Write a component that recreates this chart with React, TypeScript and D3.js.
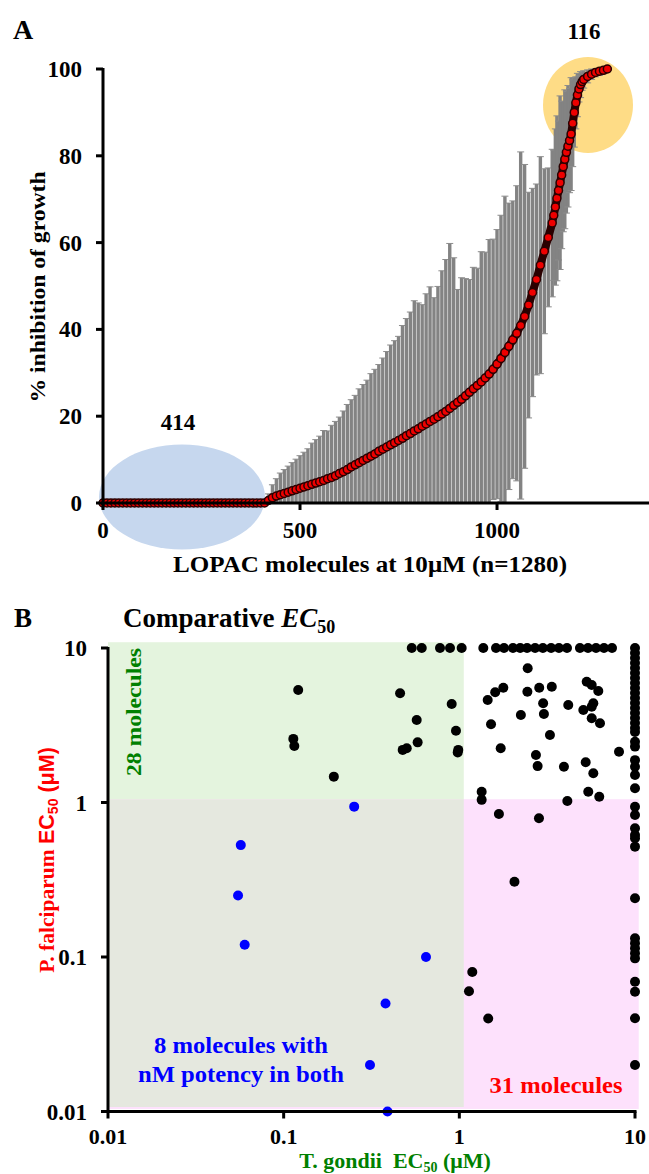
import React from 'react';
import * as d3 from 'd3';

const W = 649;
const H = 1174;
const SERIF = '"Liberation Serif", "Times New Roman", serif';
const SANS = '"Liberation Sans", Arial, sans-serif';

// ---------------- Panel A data (sorted % inhibition; sampled every 10 molecules, every 4 on the steep part) ----------------
const moleculeRank = [
  ...d3.range(0, 1140, 10),
  ...d3.range(1140, 1224, 4),
  ...d3.range(1230, 1281, 10),
];
const inhibition = [
  0, 0, 0, 0, 0, 0, 0, 0, 0, 0, 0, 0, 0, 0, 0, 0, 0, 0, 0, 0, 0,
  0, 0, 0, 0, 0, 0, 0, 0, 0, 0, 0, 0, 0, 0, 0, 0, 0, 0, 0, 0, 0,
  0.6, 1.2, 1.6, 1.9, 2.2, 2.5, 2.8, 3.1, 3.4, 3.7,
  4.0, 4.3, 4.6, 4.9, 5.2, 5.6, 5.9, 6.3, 6.8, 7.2,
  7.7, 8.3, 8.8, 9.3, 9.8, 10.3, 10.8, 11.3, 11.9, 12.4,
  12.9, 13.4, 13.9, 14.4, 14.9, 15.5, 16.0, 16.6, 17.1, 17.7,
  18.2, 18.8, 19.3, 19.9, 20.5, 21.1, 21.8, 22.5, 23.2, 23.9,
  24.7, 25.5, 26.3, 27.1, 27.9, 28.8, 29.7, 30.8, 32.0, 33.3,
  34.7, 36.1, 37.6, 39.1, 40.9, 43.0, 45.6, 48.5, 51.5, 54.8,
  58.0, 61.2,
  64.5, 66.3, 68.2, 70.2, 72.0, 73.8, 75.6, 77.5, 79.2, 80.8, 82.2,
  83.5, 85.0, 87.5, 90.0, 92.2, 94.0, 95.4, 96.4, 97.1, 97.6,
  98.3, 98.8, 99.2, 99.5, 99.7, 100,
];
const inhibitionSD = [
  0, 0, 0, 0, 0, 0, 0, 0, 0, 0, 0, 0, 0, 0, 0, 0, 0, 0, 0, 0, 0,
  0, 0, 0, 0, 0, 0, 0, 0, 0, 0, 0, 0, 0, 0, 0, 0, 0, 0, 0, 0, 0,
  1.5, 3, 4, 5, 5.5, 6, 6.5, 7, 7.5, 8,
  8.5, 9.5, 10, 10.5, 11.5, 11, 12, 12.5, 13, 14,
  15, 15.5, 16, 17, 17.5, 18, 19, 19.5, 20, 21,
  22, 23, 23.5, 24, 26, 27, 28, 30, 29, 28,
  30, 31, 28, 30, 33, 35, 38, 34, 26, 28,
  27, 26, 28, 27, 30, 29, 31, 30, 31, 33,
  36, 33, 32, 34, 40, 35, 26, 24, 22, 25,
  19, 16,
  17, 15, 18, 19, 16, 20, 17, 15, 16, 14, 14,
  12, 13, 10, 8, 6, 5, 3, 3, 2, 2,
  1.5, 1.2, 1, 1, 0.8, 0.5,
];
const xTicksA = [0, 500, 1000];
const yTicksA = [0, 20, 40, 60, 80, 100];
const inactiveCount = '414';
const activeCount = '116';

// ---------------- Panel B data (EC50, µM) ----------------
const tgondiiEC50 = [
  0.121, 0.1135, 0.115, 0.193, 0.46, 0.572, 0.579, 0.476, 0.502, 0.905, 0.957, 0.986, 0.979,
  0.536, 0.611, 0.776, 0.885, 1.031, 1.369, 1.617, 1.796, 2.02, 2.22, 2.43, 2.70, 2.99, 3.33, 3.69, 4.10, 4.86, 5.40, 6.0, 6.66, 7.40,
  2.45, 1.78, 1.6, 1.45, 2.85, 3.36, 2.44, 3.0, 3.03, 2.24, 4.17, 1.515, 3.28, 1.72, 5.31, 5.67, 6.18, 5.79, 5.67, 5.08, 5.67, 6.32,
  8.11, 2.73, 2.79, 3.94, 5.24, 5.79, 5.42, 6.26, 4.12, 1.34, 1.34,
  1.68, 2.84, 2.06, 1.185, 1.135, 1.46,
  10, 10, 10, 10, 10, 10, 10, 10, 10, 10, 10, 10, 10, 10, 10, 10, 10, 10,
  10, 10, 10, 10, 10, 10, 10, 10, 10, 10, 10, 10, 10, 10, 10, 10, 10, 10, 10, 10, 10, 10,
];
const pfalciparumEC50 = [
  5.35, 2.58, 2.32, 1.47, 5.09, 3.42, 2.45, 2.19, 2.245, 4.34, 2.915, 2.19, 2.11,
  10, 10, 10, 10, 10, 10, 10, 10, 10, 10, 10, 10, 10, 10, 10, 10, 10, 10, 10, 10, 10,
  7.39, 5.53, 5.17, 4.61, 5.53, 5.62, 5.21, 4.39, 3.74, 3.68, 4.28, 3.21, 2.735, 2.245, 6.05, 5.76, 5.27, 4.39, 4.17, 3.97, 3.51, 3.26,
  2.13, 2.03, 1.72, 1.705, 1.82, 1.545, 1.175, 1.09, 1.023, 1.175, 1.04,
  0.842, 0.79, 0.307, 0.08, 0.06, 0.04,
  10, 9.28, 8.61, 8.0, 7.42, 6.89, 6.39, 5.93, 5.51, 5.11, 4.75, 4.41, 4.09, 3.80, 3.52, 3.27, 3.03, 2.86,
  2.47, 2.30, 1.88, 1.705, 1.507, 1.235, 0.939, 0.83, 0.681, 0.616, 0.587, 0.518, 0.24, 0.132, 0.1227, 0.1138, 0.1056, 0.098, 0.0692, 0.0596, 0.0401, 0.02,
];
const tgondiiBothNM = [0.252, 0.057, 0.055, 0.060, 0.646, 0.38, 0.31, 0.39];
const pfalciparumBothNM = [0.94, 0.53, 0.25, 0.12, 0.10, 0.05, 0.02, 0.01];
const logTicksB = [0.01, 0.1, 1, 10];
const tickLabelB = ['0.01', '0.1', '1', '10'];

type TProps = {
  x: number; y: number; size: number; anchor?: string; fill?: string; len?: number;
  rotate?: number; family?: string; children?: React.ReactNode;
};
const T = ({ x, y, size, anchor = 'start', fill = '#000', len, rotate, family = SERIF, children }: TProps) => (
  <text
    x={x}
    y={y}
    fontSize={size}
    textAnchor={anchor as any}
    fill={fill}
    fontWeight="bold"
    fontFamily={family}
    textLength={len}
    lengthAdjust={len ? 'spacingAndGlyphs' : undefined}
    transform={rotate ? `rotate(${rotate} ${x} ${y})` : undefined}
  >
    {children}
  </text>
);

function PanelA() {
  const xA = d3.scaleLinear().domain([0, 1390]).range([103, 650.7]);
  const yA = d3.scaleLinear().domain([0, 100]).range([503, 69]);
  const pts = moleculeRank.map((r, i) => ({ r, v: inhibition[i], sd: inhibitionSD[i] }));
  const cap = 3.5;
  const chain = d3
    .line<{ r: number; v: number }>()
    .x((d) => xA(d.r))
    .y((d) => yA(d.v))(pts) as string;
  return (
    <g>
      <defs>
        <clipPath id="clipA">
          <rect x={103} y={yA(100) - 1} width={W - 103} height={yA(0) - yA(100) + 1} />
        </clipPath>
      </defs>
      <ellipse cx={182} cy={497} rx={83} ry={52.5} fill="#c6d7ee" />
      <ellipse cx={588} cy={105} rx={45} ry={48} fill="#fedc86" />
      <g clipPath="url(#clipA)" stroke="#8c8c8c" strokeWidth={1}>
        {pts.filter((p) => p.sd > 0).map((p, i) => {
          const x = xA(p.r);
          const y1 = yA(p.v + p.sd);
          const y0 = yA(p.v - p.sd);
          return (
            <g key={i}>
              <line x1={x} x2={x} y1={y1} y2={y0} strokeWidth={3.4} stroke="#838383" />
              <line x1={x - cap} x2={x + cap} y1={y1} y2={y1} />
              <line x1={x - cap} x2={x + cap} y1={y0} y2={y0} />
            </g>
          );
        })}
      </g>
      <path d={chain} fill="none" stroke="#2a0000" strokeWidth={8} strokeLinecap="round" strokeLinejoin="round" />
      <g>
        {pts.map((p, i) => (
          <circle key={i} cx={xA(p.r)} cy={yA(p.v)} r={4} fill="#ee0000" stroke="#2a0000" strokeWidth={1.5} />
        ))}
      </g>
      {/* axes */}
      <line x1={103} x2={103} y1={yA(100) - 1} y2={yA(0) + 2} stroke="#000" strokeWidth={3} />
      <line x1={101.5} x2={W} y1={yA(0)} y2={yA(0)} stroke="#000" strokeWidth={3} />
      {yTicksA.map((t) => (
        <g key={t}>
          <line x1={96} x2={103} y1={yA(t)} y2={yA(t)} stroke="#000" strokeWidth={3} />
          <T x={82} y={yA(t) + 8} size={23} anchor="end">{String(t)}</T>
        </g>
      ))}
      {xTicksA.map((t) => (
        <g key={t}>
          <line x1={xA(t)} x2={xA(t)} y1={yA(0)} y2={yA(0) + 7} stroke="#000" strokeWidth={3} />
          <T x={xA(t)} y={538} size={23} anchor="middle">{String(t)}</T>
        </g>
      ))}
      <T x={370} y={572} size={23} anchor="middle" len={394}>LOPAC molecules at 10μM (n=1280)</T>
      <T x={45} y={287} size={22} anchor="middle" len={231} rotate={-90}>% inhibition of growth</T>
      <T x={13} y={39} size={28}>A</T>
      <T x={584} y={39} size={23} anchor="middle">{activeCount}</T>
      <T x={178} y={430} size={23} anchor="middle">{inactiveCount}</T>
    </g>
  );
}

function PanelB() {
  const xB = d3.scaleLog().domain([0.01, 10]).range([108, 635]);
  const yB = d3.scaleLog().domain([0.01, 10]).range([1111.5, 648]);
  const xs = 1.06, ys = 1.05, top = 10.9, right = 10.5, bottom = 0.0107;
  return (
    <g>
      <rect x={xB(0.01)} y={yB(top)} width={xB(xs) - xB(0.01)} height={yB(ys) - yB(top)} fill="#e4f4de" />
      <rect x={xB(0.01)} y={yB(ys)} width={xB(right) - xB(0.01)} height={yB(bottom) - yB(ys) + 2} fill="#fde1fc" />
      <rect x={xB(0.01)} y={yB(ys)} width={xB(xs) - xB(0.01)} height={yB(bottom) - yB(ys)} fill="#e5e8df" />
      {tgondiiEC50.map((v, i) => (
        <circle key={'k' + i} cx={xB(v)} cy={yB(pfalciparumEC50[i])} r={5} fill="#000" />
      ))}
      {tgondiiBothNM.map((v, i) => (
        <circle key={'b' + i} cx={xB(v)} cy={yB(pfalciparumBothNM[i])} r={5} fill="#0000ff" />
      ))}
      <line x1={108} x2={108} y1={647} y2={1113} stroke="#000" strokeWidth={3} />
      <line x1={106.5} x2={636.5} y1={1111.5} y2={1111.5} stroke="#000" strokeWidth={3} />
      {logTicksB.map((t, i) => (
        <g key={t}>
          <line x1={101} x2={108} y1={yB(t)} y2={yB(t)} stroke="#000" strokeWidth={3} />
          <T x={87} y={yB(t) + 8} size={23} anchor="end">{tickLabelB[i]}</T>
          <line x1={xB(t)} x2={xB(t)} y1={1111.5} y2={1118.5} stroke="#000" strokeWidth={3} />
          <T x={xB(t)} y={1144} size={22} anchor="middle">{tickLabelB[i]}</T>
        </g>
      ))}
      <T x={14} y={627} size={27}>B</T>
      <text x={123} y={627} fontSize={27} fontWeight="bold" fontFamily={SERIF} fill="#000">
        Comparative <tspan fontStyle="italic">EC</tspan>
        <tspan fontSize={18} dy={6}>50</tspan>
      </text>
      <T x={141} y={712} size={22} anchor="middle" fill="#008000" len={128} rotate={-90}>28 molecules</T>
      <T x={241} y={1053} size={23} anchor="middle" fill="#0000ff" len={174}>8 molecules with</T>
      <T x={241} y={1082} size={23} anchor="middle" fill="#0000ff" len={206}>nM potency in both</T>
      <T x={556} y={1093} size={23} anchor="middle" fill="#ff0000" len={133}>31 molecules</T>
      <text x={395} y={1168} fontSize={22} fontWeight="bold" fontFamily={SERIF} fill="#008000" textAnchor="middle">
        T. gondii{'\u00a0\u00a0'}EC<tspan fontSize={14} dy={4}>50</tspan>
        <tspan dy={-4}>{' (μM)'}</tspan>
      </text>
      <text
        x={54}
        y={860}
        fontSize={21.5}
        fontWeight="bold"
        fill="#ff0000"
        textAnchor="middle"
        transform="rotate(-90 54 860)"
      >
        <tspan fontFamily={SERIF}>P. falciparum </tspan>
        <tspan fontFamily={SANS}>EC</tspan>
        <tspan fontFamily={SANS} fontSize={14} dy={4}>50</tspan>
        <tspan fontFamily={SANS} dy={-4}>{' (μM)'}</tspan>
      </text>
    </g>
  );
}

export default function App() {
  return (
    <svg
      width={W}
      height={H}
      viewBox={`0 0 ${W} ${H}`}
      style={{ position: 'absolute', left: 0, top: 0, background: '#fff' }}
    >
      <PanelA />
      <PanelB />
    </svg>
  );
}
